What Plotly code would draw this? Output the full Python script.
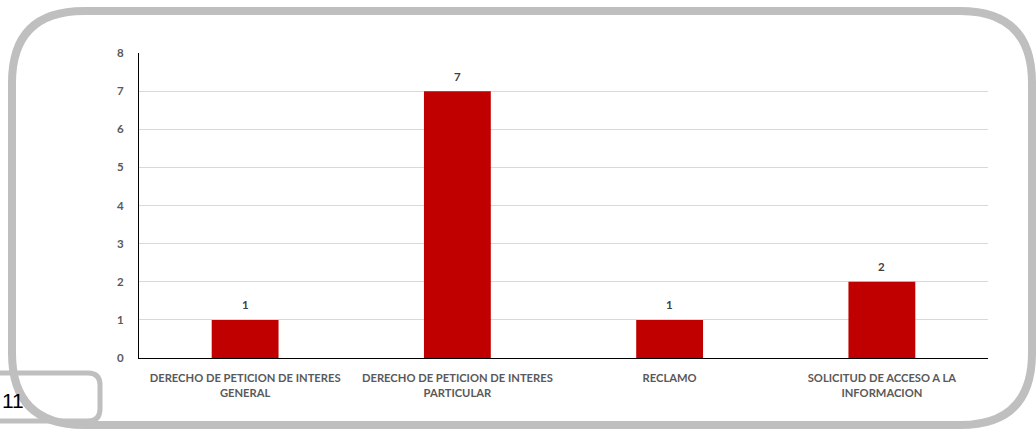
import plotly.graph_objects as go

categories = [
    "DERECHO DE PETICION DE INTERES<br>GENERAL",
    "DERECHO DE PETICION DE INTERES<br>PARTICULAR",
    "RECLAMO",
    "SOLICITUD DE ACCESO A LA<br>INFORMACION",
]
values = [1, 7, 1, 2]
y_ticks = [0, 1, 2, 3, 4, 5, 6, 7, 8]
page_number = "11"

W, H = 1036, 429
ML, MR, MT, MB = 139, 48, 53, 71
PW, PH = W - ML - MR, H - MT - MB
FONT = "Lato, Liberation Sans, Arial"


def px(x):
    return (x - ML) / PW


def py(y):
    return (H - MB - y) / PH


def rounded_rect(x0, y0, x1, y1, r):
    pts = [
        ("M", x0 + r, y0), ("L", x1 - r, y0), ("Q", x1, y0, x1, y0 + r),
        ("L", x1, y1 - r), ("Q", x1, y1, x1 - r, y1),
        ("L", x0 + r, y1), ("Q", x0, y1, x0, y1 - r),
        ("L", x0, y0 + r), ("Q", x0, y0, x0 + r, y0),
    ]
    out = []
    for p in pts:
        cmd = p[0]
        coords = p[1:]
        s = []
        for i in range(0, len(coords), 2):
            s.append(f"{px(coords[i]):.5f},{py(coords[i+1]):.5f}")
        out.append(cmd + " " + " ".join(s))
    return " ".join(out) + " Z"


fig = go.Figure()
fig.add_trace(go.Bar(
    x=categories,
    y=values,
    marker=dict(color="#c00000", line=dict(width=0)),
    cliponaxis=False,
    width=0.315,
))

value_labels = [
    dict(x=c, y=v, xref="x", yref="y", text=str(v), showarrow=False,
         yanchor="middle", yshift=15,
         font=dict(family=FONT, size=11.5, color="#404040", weight="bold"))
    for c, v in zip(categories, values)
]

fig.update_layout(
    width=W, height=H,
    margin=dict(l=ML, r=MR, t=MT, b=MB),
    paper_bgcolor="white",
    plot_bgcolor="white",
    showlegend=False,
    font=dict(family=FONT, color="#595959"),
    xaxis=dict(
        showline=True, linecolor="black", linewidth=1,
        showgrid=False, ticks="",
        ticklabelstandoff=10,
        tickfont=dict(size=11.2, color="#595959", weight="bold"),
        fixedrange=True,
    ),
    yaxis=dict(
        range=[0, 8],
        tickvals=y_ticks,
        showline=True, linecolor="black", linewidth=1,
        showgrid=True, gridcolor="#d9d9d9", gridwidth=1,
        zeroline=False,
        ticks="",
        ticklabelstandoff=12,
        tickfont=dict(size=11.5, color="#595959", weight="bold"),
        fixedrange=True,
    ),
    shapes=[
        dict(type="path", xref="paper", yref="paper",
             path=rounded_rect(12, 11, 1032, 425, 72),
             line=dict(color="#bfbfbf", width=8), fillcolor="rgba(0,0,0,0)", layer="above"),
        dict(type="path", xref="paper", yref="paper",
             path=rounded_rect(-30, 373, 100, 421, 12),
             line=dict(color="#bfbfbf", width=5), fillcolor="rgba(0,0,0,0)", layer="above"),
    ],
    annotations=value_labels + [
        dict(text=page_number, xref="paper", yref="paper",
             x=px(0), y=py(400), xanchor="left", yanchor="middle",
             showarrow=False,
             font=dict(family="Liberation Sans, Arial", size=21, color="#000000")),
    ],
)

fig.write_html(
    "out.html",
    config={"displayModeBar": False},
    post_script="document.body.style.margin='0';document.body.style.overflow='hidden';",
)
